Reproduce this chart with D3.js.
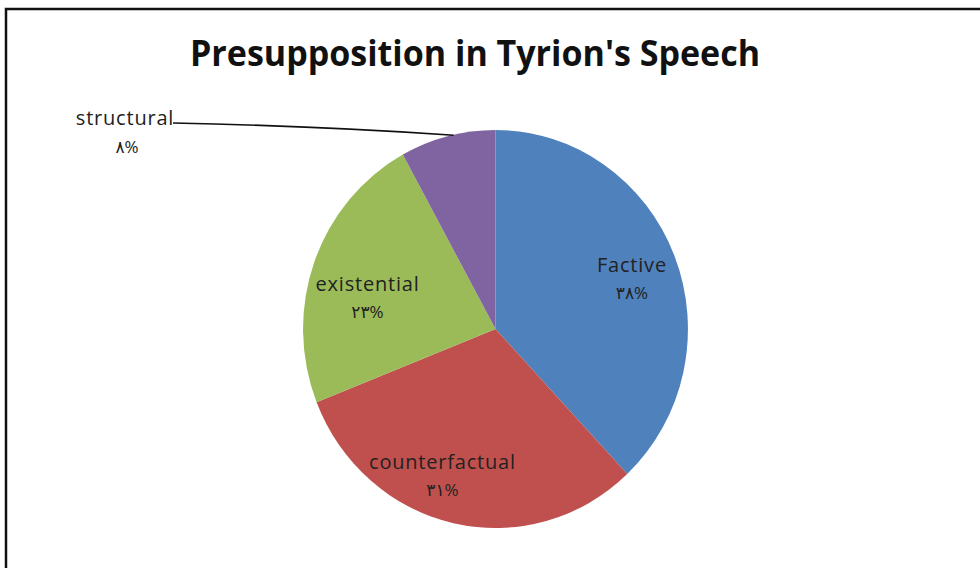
<!DOCTYPE html>
<html>
<head>
<meta charset="utf-8">
<script src="https://cdn.jsdelivr.net/npm/d3@7"></script>
<style>
  body { margin: 0; background: #fff; }
  text { font-family: "Open Sans", "DejaVu Sans", sans-serif; }
</style>
</head>
<body>
<svg width="980" height="568"></svg>
<script>
const categories = ["Factive", "counterfactual", "existential", "structural"];
const values = [38, 31, 23, 8];
const valueLabels = ["٣٨%", "٣١%", "٢٣%", "٨%"];
const colors = ["#4F81BD", "#C0504D", "#9BBB59", "#8064A2"];
// small label nudges (Excel style placement)
const labelNudge = [[4, 10], [-22, 9], [6, 25], [0, 0]];

const svg = d3.select("svg");
const width = +svg.attr("width");
const height = +svg.attr("height");

// chart frame (cropped at right/bottom)
svg.append("rect")
  .attr("x", 6).attr("y", 9)
  .attr("width", width + 10).attr("height", height + 10)
  .attr("fill", "none").attr("stroke", "#111").attr("stroke-width", 2.5);

svg.append("text")
  .attr("x", 190).attr("y", 66)
  .attr("font-size", 36).attr("font-weight", "bold")
  .attr("fill", "#111")
  .attr("textLength", 570).attr("lengthAdjust", "spacingAndGlyphs")
  .text("Presupposition in Tyrion's Speech");

const cx = 495.5, cy = 329, r = 199, sx = 0.967;
const data = categories.map((c, i) => ({ name: c, value: values[i], label: valueLabels[i], color: colors[i], nudge: labelNudge[i] }));

const pie = d3.pie().sort(null).value(d => d.value);
const arc = d3.arc().innerRadius(0).outerRadius(r);
const labelArc = d3.arc().innerRadius(r * 0.74).outerRadius(r * 0.74);

const g = svg.append("g").attr("transform", `translate(${cx}, ${cy})`);
const arcs = pie(data);

g.append("g").attr("transform", `scale(${sx}, 1)`)
  .selectAll("path")
  .data(arcs)
  .enter()
  .append("path")
  .attr("d", arc)
  .attr("fill", d => d.data.color);

// inside labels for the three big slices
const inside = g.selectAll(".lbl")
  .data(arcs.filter(d => d.data.name !== "structural"))
  .enter()
  .append("text")
  .attr("class", "lbl")
  .attr("text-anchor", "middle")
  .attr("font-size", 20)
  .attr("letter-spacing", 0.8)
  .attr("fill", "#222")
  .attr("transform", d => {
    const c = labelArc.centroid(d);
    return `translate(${c[0] * sx + d.data.nudge[0]}, ${c[1] + d.data.nudge[1]})`;
  });
inside.append("tspan").attr("x", 0).attr("y", -13).text(d => d.data.name);
inside.append("tspan").attr("x", 0).attr("y", 14).attr("font-size", 17).text(d => d.data.label);

// outside label with leader line for structural
const s = arcs.find(d => d.data.name === "structural");
const edge = d3.arc().innerRadius(r).outerRadius(r).centroid(s);
g.append("path")
  .attr("d", `M${173 - cx},${123 - cy} Q${320 - cx},${126 - cy} ${edge[0] * sx + 6},${edge[1] - 1}`)
  .attr("fill", "none")
  .attr("stroke", "#111").attr("stroke-width", 1.6);
const out = g.append("text")
  .attr("text-anchor", "middle")
  .attr("font-size", 20)
  .attr("letter-spacing", 0.8)
  .attr("fill", "#222");
out.append("tspan").attr("x", 125 - cx).attr("y", 125 - cy).text(s.data.name);
out.append("tspan").attr("x", 127 - cx).attr("y", 153 - cy).attr("font-size", 17).text(s.data.label);
</script>
</body>
</html>
